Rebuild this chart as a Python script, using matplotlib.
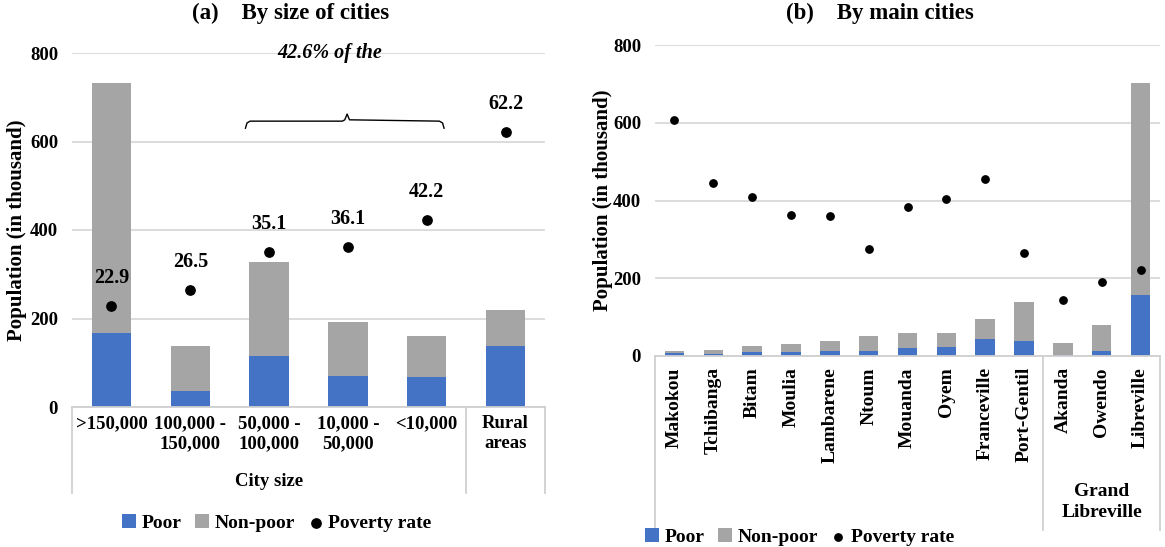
import numpy as np
import matplotlib
matplotlib.use("Agg")
import matplotlib.pyplot as plt
import matplotlib.transforms as mtransforms

# -------------------------------
# DATA
# -------------------------------
size_labels = [">150,000", "100,000 -\n150,000", "50,000 -\n100,000",
               "10,000 -\n50,000", "<10,000", "Rural\nareas"]
size_poor = [167, 36, 115, 70, 68, 138]
size_nonpoor = [565, 101, 213, 122, 92, 81]
size_rate = [22.9, 26.5, 35.1, 36.1, 42.2, 62.2]

city_labels = ["Makokou", "Tchibanga", "Bitam", "Moulia", "Lambarene", "Ntoum",
               "Mouanda", "Oyem", "Franceville", "Port-Gentil",
               "Akanda", "Owendo", "Libreville"]
city_poor = [8, 6, 11, 11, 13, 13, 21, 24, 44, 38, 2, 13, 157]
city_nonpoor = [5, 9, 16, 21, 25, 38, 37, 34, 50, 100, 32, 66, 546]
city_rate = [60.8, 44.6, 40.8, 36.2, 35.9, 27.4, 38.2, 40.5, 45.6, 26.4, 14.3, 19.1, 22.0]

BLUE = "#4472C4"
GREY = "#A5A5A5"
GRID = "#D9D9D9"
LINE = "#D0D0D0"

plt.rcParams["font.family"] = ["Liberation Serif", "DejaVu Serif"]
plt.rcParams["font.weight"] = "bold"

W, H = 1165, 547
fig = plt.figure(figsize=(W / 100, H / 100), dpi=100)


def px_axes(x0, x1, ytop, ybot):
    return fig.add_axes([x0 / W, (H - ybot) / H, (x1 - x0) / W, (ybot - ytop) / H])


def style_axes(ax, n):
    ax.set_ylim(0, 800)
    ax.set_xlim(-0.5, n - 0.5)
    ax.set_yticks([0, 200, 400, 600, 800])
    ax.yaxis.grid(True, color=GRID, linewidth=1.3)
    ax.set_axisbelow(True)
    for s in ["top", "right", "left"]:
        ax.spines[s].set_visible(False)
    ax.spines["bottom"].set_color(LINE)
    ax.spines["bottom"].set_linewidth(1.3)
    ax.tick_params(axis="both", length=0, labelsize=13.5)
    ax.tick_params(axis="y", pad=10)
    ax.set_ylabel("Population (in thousand)", fontsize=15, fontweight="bold")


def add_legend(handles, cx, cy, ha):
    fig.legend(handles, ["Poor", "Non-poor", "Poverty rate"], loc=ha,
               bbox_to_anchor=(cx / W, (H - cy) / H), ncol=3,
               frameon=False, fontsize=14, handlelength=0.7, handleheight=0.7,
               handletextpad=0.3, columnspacing=0.7, borderpad=0, borderaxespad=0)


# -------------------------------
# PANEL (a): BY SIZE OF CITIES
# -------------------------------
ax1 = px_axes(72, 545, 53, 407)
x1 = np.arange(len(size_labels))
b1 = ax1.bar(x1, size_poor, width=0.5, color=BLUE)
b2 = ax1.bar(x1, size_nonpoor, width=0.5, bottom=size_poor, color=GREY)
sc = ax1.scatter(x1, np.array(size_rate) * 10, s=45, color="black", zorder=3)
for xi, r in zip(x1, size_rate):
    ax1.annotate(f"{r}", (xi, r * 10), xytext=(0, 20), textcoords="offset points",
                 ha="center", va="center", fontsize=14.5, fontweight="bold")
style_axes(ax1, len(size_labels))
ax1.yaxis.labelpad = 2
ax1.set_xticks(x1)
ax1.set_xticklabels(size_labels, fontsize=13.5, linespacing=1.2)
ax1.tick_params(axis="x", pad=6)

tr1 = mtransforms.blended_transform_factory(ax1.transData, ax1.transAxes)
low1 = -(493 - 407) / (407 - 53)
for xv in [-0.5, 4.5, 5.5]:
    ax1.plot([xv, xv], [0, low1], color=LINE, lw=1.3, transform=tr1, clip_on=False)
ax1.text(2, -(482 - 407) / (407 - 53), "City size", transform=tr1, ha="center",
         va="center", fontsize=13.5, fontweight="bold")

# brace over the middle-sized cities
bx = [1.7, 1.72, 1.76, 2.93, 2.96, 2.99, 3.02, 4.16, 4.2, 4.22]
by = [630, 642, 646, 646, 649, 662, 649, 646, 642, 630]
ax1.plot(bx, by, color="black", lw=1)
ax1.text(2.77, 800, "42.6% of the", ha="center", va="center", fontsize=14.5,
         fontweight="bold", style="italic")

fig.text(291 / W, (H - 13) / H, "(a)    By size of cities", ha="center", va="center",
         fontsize=16.5, fontweight="bold")
add_legend([b1, b2, sc], 277, 523, "center")

# -------------------------------
# PANEL (b): BY MAIN CITIES
# -------------------------------
ax2 = px_axes(655, 1160, 45, 356)
x2 = np.arange(len(city_labels))
c1 = ax2.bar(x2, city_poor, width=0.5, color=BLUE)
c2 = ax2.bar(x2, city_nonpoor, width=0.5, bottom=city_poor, color=GREY)
sc2 = ax2.scatter(x2, np.array(city_rate) * 10, s=28, color="black", zorder=3)
style_axes(ax2, len(city_labels))
ax2.yaxis.labelpad = 0
ax2.set_xticks(x2)
ax2.set_xticklabels(city_labels, rotation=90, fontsize=14)
ax2.tick_params(axis="x", pad=8)

tr2 = mtransforms.blended_transform_factory(ax2.transData, ax2.transAxes)
low2 = -(530 - 356) / (356 - 45)
for xv in [-0.5, 9.5, 12.5]:
    ax2.plot([xv, xv], [0, low2], color=LINE, lw=1.3, transform=tr2, clip_on=False)
ax2.text(11, -(502 - 356) / (356 - 45), "Grand\nLibreville", transform=tr2,
         ha="center", va="center", fontsize=14, fontweight="bold", linespacing=1.3)

fig.text(880 / W, (H - 13) / H, "(b)    By main cities", ha="center", va="center",
         fontsize=16.5, fontweight="bold")
add_legend([c1, c2, sc2], 645, 537, "center left")

fig.savefig("out.png", dpi=100)
